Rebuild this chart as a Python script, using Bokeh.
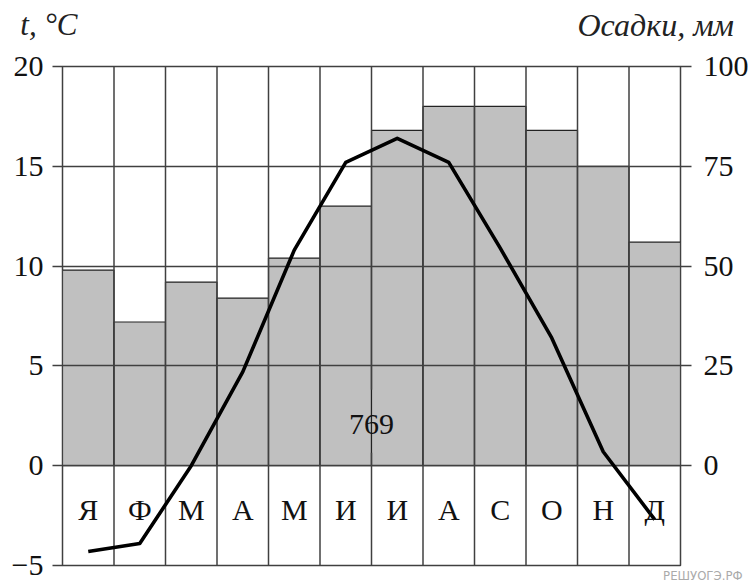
from bokeh.plotting import figure
from bokeh.layouts import column
from bokeh.models import LinearAxis, Range1d, FixedTicker, Title
from bokeh.core.properties import value
from bokeh.embed import file_html
from bokeh.resources import INLINE

# ---- data ----
months = ["Я", "Ф", "М", "А", "М", "И", "И", "А", "С", "О", "Н", "Д"]
temperature = [-4.3, -3.9, 0.0, 4.7, 10.8, 15.2, 16.4, 15.2, 10.9, 6.4, 0.7, -2.7]   # °C
precipitation = [49, 36, 46, 42, 52, 65, 84, 90, 90, 84, 75, 56]                  # mm
temp_ticks = [-5, 0, 5, 10, 15, 20]
precip_ticks = [0, 25, 50, 75, 100]
annual_total = "769"
left_title = "t, °C"
right_title = "Осадки, мм"
watermark = "РЕШУОГЭ.РФ"

SERIF = "Liberation Serif"
LINE = "#404040"
TXT = "#111111"
BL, FW, BR = 62, 618, 65
W = BL + FW + BR
TOP_H = 48


def title_axis(axis, text, size, standoff):
    axis.ticker = FixedTicker(ticks=[1])
    axis.major_label_overrides = {1: text}
    axis.axis_line_color = None
    axis.major_tick_in = 0
    axis.major_tick_out = 0
    axis.major_tick_line_color = None
    axis.minor_tick_line_color = None
    axis.major_label_standoff = standoff
    axis.major_label_text_font = SERIF
    axis.major_label_text_font_style = "italic"
    axis.major_label_text_font_size = size
    axis.major_label_text_color = "#222222"


# ---- header strip: the two axis titles ----
top = figure(frame_width=FW, frame_height=TOP_H, x_range=Range1d(0, 1), y_range=Range1d(0, 2),
             min_border_left=BL, min_border_right=BR, min_border_top=0, min_border_bottom=0,
             x_axis_location=None, title=None, output_backend="svg", toolbar_location=None)
top.outline_line_color = None
top.xgrid.visible = False
top.ygrid.visible = False
title_axis(top.yaxis[0], left_title, "31px", -15)
rt = LinearAxis()
title_axis(rt, right_title, "32px", -103)
top.add_layout(rt, "right")

# ---- main chart ----
n = len(months)
centers = [i + 0.5 for i in range(n)]

p = figure(frame_width=FW, frame_height=499,
           min_border_left=BL, min_border_right=BR, min_border_top=18, min_border_bottom=16,
           x_range=Range1d(0, n), y_range=Range1d(-5, 20), title=None,
           x_axis_location=None, output_backend="svg", toolbar_location=None)
p.extra_y_ranges = {"precip": Range1d(-25, 100)}
p.outline_line_color = LINE
p.outline_line_width = 1.5

# bars (precipitation)
bars = p.vbar(x=centers, top=precipitation, bottom=0, width=1.0, y_range_name="precip",
              fill_color="#c0c0c0", line_color="#222222", line_width=1.2)
bars.level = "image"

# horizontal grid
p.xgrid.visible = False
p.ygrid.ticker = FixedTicker(ticks=temp_ticks)
p.ygrid.grid_line_color = LINE
p.ygrid.grid_line_width = 1.5

# vertical column separators (middle one interrupted around the total)
x0s, y0s, x1s, y1s = [], [], [], []
for k in range(1, n):
    if k == n // 2:
        x0s += [k, k]; x1s += [k, k]
        y0s += [-5, 3.8]; y1s += [0.65, 20]
    else:
        x0s.append(k); x1s.append(k); y0s.append(-5); y1s.append(20)
p.segment(x0=x0s, y0=y0s, x1=x1s, y1=y1s, line_color=LINE, line_width=1.5)

# temperature line
p.line(x=centers, y=temperature, line_color="black", line_width=3.6, line_join="round")

# month labels
p.text(x=centers, y=[-2.2] * n, text=months, text_align="center", text_baseline="middle",
       text_font=value(SERIF), text_font_size="30px", text_color=TXT)

# annual total
p.text(x=[n / 2], y=[2.05], text=[annual_total], text_align="center", text_baseline="middle",
       text_font=value(SERIF), text_font_size="30px", text_color=TXT)

# left axis
la = p.yaxis[0]
la.ticker = FixedTicker(ticks=temp_ticks)
la.axis_line_color = None
la.major_tick_in = 0
la.major_tick_out = 10
la.major_tick_line_color = LINE
la.major_tick_line_width = 1.5
la.minor_tick_line_color = None
la.major_label_standoff = 9
la.major_label_text_font = SERIF
la.major_label_text_font_size = "30px"
la.major_label_text_color = TXT

# right axis
ra = LinearAxis(y_range_name="precip", ticker=FixedTicker(ticks=precip_ticks))
ra.axis_line_color = None
ra.major_tick_in = 0
ra.major_tick_out = 11
ra.major_tick_line_color = LINE
ra.major_tick_line_width = 1.5
ra.minor_tick_line_color = None
ra.major_label_standoff = 12
ra.major_label_text_font = SERIF
ra.major_label_text_font_size = "30px"
ra.major_label_text_color = TXT
p.add_layout(ra, "right")

# watermark
p.add_layout(Title(text=watermark, align="right", offset=-62, standoff=0,
                   text_font="DejaVu Sans Condensed", text_font_style="normal",
                   text_font_size="13px", text_color="#aaaaaa"), "below")

layout = column(top, p)
open("out.html", "w").write(file_html(layout, INLINE))
